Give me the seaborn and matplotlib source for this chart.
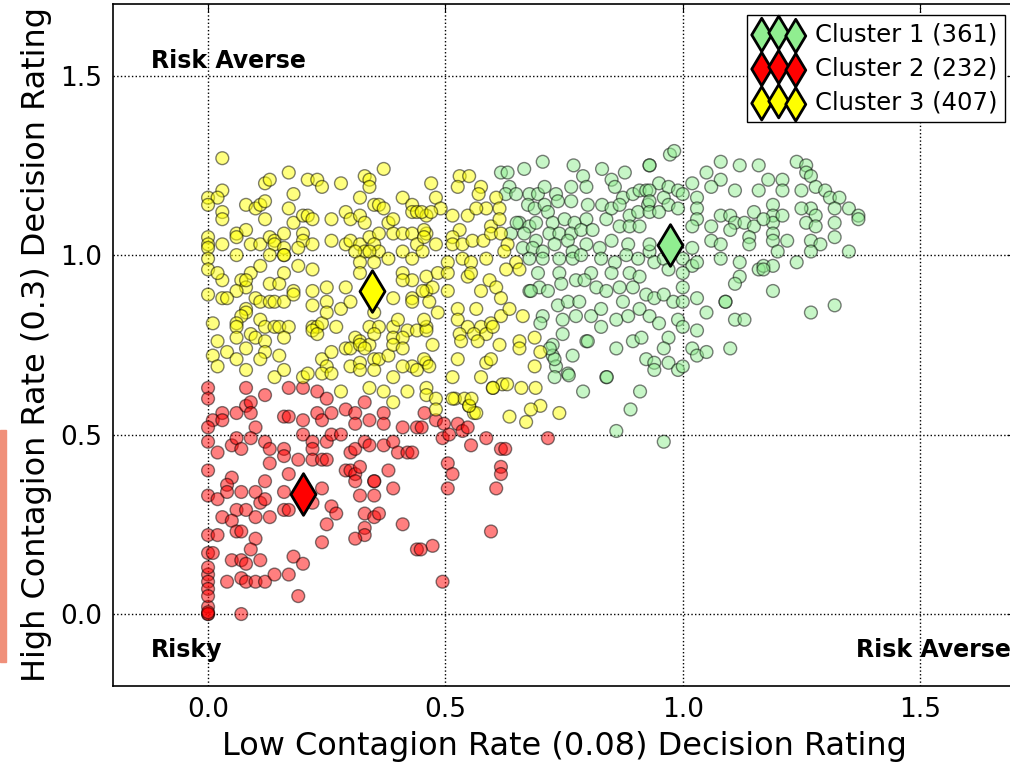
import numpy as np
import pandas as pd
import seaborn as sns
import matplotlib.pyplot as plt
from matplotlib.patches import Rectangle

# decision ratings: (low contagion, high contagion)
cluster1_pts = [  # green
    (0.617, 1.23), (0.631, 1.23), (0.666, 1.24), (0.705, 1.26), (0.77, 1.25), (0.83, 1.24), (0.93, 1.25),
    (0.635, 1.19), (0.627, 1.17), (0.649, 1.17), (0.677, 1.17), (0.695, 1.17), (0.709, 1.19), (0.733, 1.17),
    (0.765, 1.19), (0.79, 1.22), (0.797, 1.19), (0.85, 1.21), (0.878, 1.23), (0.674, 1.14), (0.688, 1.13),
    (0.709, 1.14), (0.737, 1.15), (0.765, 1.15), (0.80, 1.14), (0.83, 1.14), (0.857, 1.19), (0.874, 1.16),
    (0.895, 1.17), (0.909, 1.18), (0.923, 1.18), (0.656, 1.09), (0.677, 1.08), (0.691, 1.09), (0.716, 1.12),
    (0.726, 1.09), (0.751, 1.10), (0.772, 1.09), (0.797, 1.10), (0.839, 1.10), (0.85, 1.13), (0.867, 1.14),
    (0.888, 1.11), (0.906, 1.12), (0.927, 1.14), (0.638, 1.06), (0.666, 1.06), (0.691, 1.04), (0.719, 1.06),
    (0.74, 1.06), (0.765, 1.06), (0.786, 1.07), (0.81, 1.07), (0.867, 1.08), (0.888, 1.08), (0.909, 1.08),
    (0.663, 1.02), (0.684, 1.02), (0.705, 1.01), (0.73, 1.03), (0.758, 1.04), (0.768, 1.01), (0.797, 1.03),
    (0.825, 1.02), (0.85, 1.04), (0.885, 1.03), (0.677, 0.99), (0.705, 0.99), (0.74, 0.99), (0.768, 0.99),
    (0.786, 1.00), (0.828, 0.99), (0.857, 0.98), (0.881, 1.00), (0.906, 0.99), (0.93, 1.01), (0.695, 0.95),
    (0.74, 0.95), (0.775, 0.93), (0.807, 0.95), (0.85, 0.95), (0.888, 0.95), (0.909, 0.94), (0.677, 0.90),
    (0.698, 0.91), (0.716, 0.90), (0.744, 0.92), (0.793, 0.93), (0.818, 0.91), (0.839, 0.90), (0.867, 0.91),
    (0.895, 0.91), (0.923, 0.89), (0.737, 0.86), (0.758, 0.87), (0.782, 0.87), (0.874, 0.87), (0.705, 0.83),
    (0.747, 0.82), (0.775, 0.83), (0.807, 0.83), (0.828, 0.85), (0.86, 0.82), (0.885, 0.83), (0.909, 0.85),
    (0.747, 0.78), (0.797, 0.76), (0.828, 0.80), (0.86, 0.74), (0.895, 0.76), (0.913, 0.77), (0.726, 0.75),
    (0.726, 0.72), (0.768, 0.72), (0.733, 0.69), (0.758, 0.67), (0.839, 0.66), (0.923, 0.71),
    (0.973, 1.28), (0.982, 1.29), (0.93, 1.25), (1.08, 1.26), (1.12, 1.25), (1.16, 1.25), (1.24, 1.26),
    (1.26, 1.25), (1.26, 1.23), (1.27, 1.22), (1.05, 1.23), (1.18, 1.21), (1.21, 1.21), (0.95, 1.20),
    (0.97, 1.19), (0.99, 1.18), (1.02, 1.20), (1.08, 1.21), (1.06, 1.19), (1.11, 1.18), (1.16, 1.18),
    (1.21, 1.18), (1.25, 1.18), (1.28, 1.19), (1.30, 1.18), (1.31, 1.16), (1.33, 1.16), (1.35, 1.13),
    (1.37, 1.11), (1.37, 1.10), (1.32, 1.13), (1.27, 1.13), (1.25, 1.13), (1.28, 1.11), (0.93, 1.18),
    (0.93, 1.15), (0.96, 1.16), (0.97, 1.14), (0.99, 1.13), (1.00, 1.17), (1.03, 1.16), (0.93, 1.12),
    (0.95, 1.12), (1.03, 1.13), (1.03, 1.10), (1.08, 1.11), (1.10, 1.11), (1.15, 1.12), (1.19, 1.14),
    (1.19, 1.11), (1.19, 1.09), (1.21, 1.11), (1.11, 1.09), (1.13, 1.09), (1.15, 1.08), (1.17, 1.10),
    (1.06, 1.08), (1.02, 1.08), (1.10, 1.07), (1.14, 1.05), (1.19, 1.06), (1.19, 1.04), (1.22, 1.04),
    (1.26, 1.09), (1.28, 1.08), (1.32, 1.09), (1.32, 1.05), (1.27, 1.04), (1.29, 1.03), (1.06, 1.04),
    (1.08, 1.03), (1.14, 1.03), (1.02, 1.02), (1.20, 1.01), (1.27, 1.01), (1.35, 1.01), (0.93, 1.03),
    (0.94, 0.98), (0.96, 0.99), (1.00, 0.99), (1.02, 0.97), (0.97, 0.96), (1.00, 0.95), (1.03, 0.98),
    (1.08, 0.99), (1.12, 0.98), (1.16, 0.96), (1.17, 0.97), (1.19, 0.97), (1.24, 0.98), (1.12, 0.94),
    (1.11, 0.92), (1.19, 0.90), (1.00, 0.91), (0.94, 0.88), (0.96, 0.89), (0.98, 0.87), (1.00, 0.87),
    (1.03, 0.88), (1.09, 0.87), (1.05, 0.84), (1.11, 0.82), (1.13, 0.82), (1.27, 0.84), (1.32, 0.86),
    (0.93, 0.83), (0.95, 0.81), (0.97, 0.77), (0.99, 0.82), (1.00, 0.80), (1.03, 0.79), (0.96, 0.74),
    (1.02, 0.74), (1.03, 0.72), (1.05, 0.73), (1.10, 0.74), (0.94, 0.70), (0.97, 0.70), (0.99, 0.68),
    (1.00, 0.69), (0.94, 0.68), (0.79, 0.62), (0.91, 0.62), (0.89, 0.57), (0.86, 0.51), (0.96, 0.48),
    (0.84, 0.66), (0.80, 0.76), (0.73, 0.66), (0.76, 0.665), (0.73, 0.71), (0.72, 0.74), (0.70, 0.81),
    (0.68, 0.90), (0.65, 1.09), (1.09, 0.87), (1.17, 0.96),
]

cluster2_pts = [  # red
    (0.0, 0.63), (0.0, 0.60), (0.03, 0.56), (0.06, 0.56), (0.08, 0.58), (0.09, 0.59), (0.09, 0.56),
    (0.08, 0.63), (0.12, 0.61), (0.17, 0.63), (0.20, 0.63), (0.23, 0.62), (0.25, 0.60), (0.01, 0.54),
    (0.0, 0.52), (0.03, 0.54), (0.10, 0.52), (0.16, 0.55), (0.17, 0.55), (0.20, 0.54), (0.23, 0.56),
    (0.24, 0.54), (0.26, 0.56), (0.29, 0.57), (0.31, 0.56), (0.31, 0.53), (0.34, 0.54), (0.33, 0.59),
    (0.37, 0.56), (0.37, 0.53), (0.41, 0.52), (0.44, 0.52), (0.0, 0.48), (0.02, 0.45), (0.05, 0.47),
    (0.06, 0.49), (0.07, 0.46), (0.09, 0.49), (0.12, 0.48), (0.13, 0.46), (0.16, 0.46), (0.16, 0.44),
    (0.19, 0.43), (0.20, 0.50), (0.22, 0.48), (0.22, 0.46), (0.22, 0.43), (0.24, 0.43), (0.25, 0.43),
    (0.25, 0.48), (0.26, 0.50), (0.28, 0.50), (0.30, 0.45), (0.31, 0.46), (0.33, 0.48), (0.34, 0.47),
    (0.37, 0.47), (0.39, 0.48), (0.40, 0.45), (0.42, 0.45), (0.43, 0.45), (0.13, 0.42), (0.0, 0.40),
    (0.05, 0.38), (0.04, 0.36), (0.0, 0.33), (0.02, 0.32), (0.04, 0.34), (0.07, 0.34), (0.10, 0.34),
    (0.11, 0.31), (0.12, 0.32), (0.12, 0.37), (0.16, 0.34), (0.17, 0.39), (0.16, 0.29), (0.17, 0.29),
    (0.22, 0.31), (0.24, 0.35), (0.26, 0.30), (0.27, 0.28), (0.29, 0.40), (0.30, 0.40), (0.31, 0.39),
    (0.32, 0.41), (0.31, 0.37), (0.35, 0.37), (0.35, 0.37), (0.32, 0.33), (0.35, 0.33), (0.38, 0.40),
    (0.39, 0.35), (0.06, 0.29), (0.03, 0.27), (0.05, 0.26), (0.08, 0.29), (0.10, 0.27), (0.13, 0.27),
    (0.0, 0.22), (0.02, 0.22), (0.06, 0.23), (0.07, 0.23), (0.10, 0.21), (0.25, 0.25), (0.33, 0.28),
    (0.35, 0.27), (0.36, 0.28), (0.33, 0.24), (0.33, 0.22), (0.41, 0.25), (0.24, 0.20), (0.31, 0.21),
    (0.44, 0.18), (0.0, 0.17), (0.01, 0.17), (0.09, 0.18), (0.05, 0.15), (0.07, 0.15), (0.08, 0.14),
    (0.11, 0.15), (0.18, 0.16), (0.20, 0.14), (0.0, 0.11), (0.0, 0.09), (0.0, 0.07), (0.04, 0.09),
    (0.07, 0.10), (0.08, 0.09), (0.10, 0.09), (0.12, 0.09), (0.14, 0.11), (0.17, 0.11), (0.19, 0.05),
    (0.0, 0.02), (0.0, 0.0), (0.0, 0.0), (0.0, 0.005), (0.07, 0.0), (0.0, 0.05), (0.0, 0.13),
    (0.456, 0.56), (0.45, 0.52), (0.48, 0.54), (0.497, 0.53), (0.494, 0.49), (0.508, 0.50), (0.526, 0.53),
    (0.536, 0.51), (0.547, 0.52), (0.554, 0.47), (0.586, 0.49), (0.617, 0.46), (0.626, 0.46), (0.716, 0.49),
    (0.505, 0.42), (0.515, 0.39), (0.505, 0.35), (0.617, 0.41), (0.617, 0.39), (0.607, 0.35), (0.596, 0.23),
    (0.473, 0.19), (0.448, 0.18), (0.494, 0.09),
]

cluster3_pts = [  # yellow
    (0.03, 1.27), (0.17, 1.23), (0.37, 1.24), (0.12, 1.20), (0.13, 1.21), (0.21, 1.21), (0.23, 1.21),
    (0.24, 1.19), (0.28, 1.20), (0.33, 1.22), (0.34, 1.21), (0.34, 1.19), (0.0, 1.16), (0.03, 1.18),
    (0.02, 1.16), (0.0, 1.14), (0.18, 1.17), (0.32, 1.16), (0.41, 1.16), (0.43, 1.14), (0.08, 1.14),
    (0.10, 1.13), (0.11, 1.14), (0.12, 1.15), (0.17, 1.13), (0.35, 1.14), (0.36, 1.14), (0.37, 1.13),
    (0.03, 1.12), (0.03, 1.10), (0.12, 1.10), (0.18, 1.09), (0.20, 1.11), (0.21, 1.11), (0.22, 1.10),
    (0.26, 1.10), (0.29, 1.12), (0.30, 1.10), (0.32, 1.11), (0.33, 1.09), (0.38, 1.09), (0.39, 1.10),
    (0.43, 1.12), (0.44, 1.12), (0.46, 1.11), (0.0, 1.05), (0.0, 1.03), (0.0, 1.02), (0.06, 1.06),
    (0.08, 1.07), (0.06, 1.05), (0.03, 1.03), (0.09, 1.03), (0.11, 1.03), (0.13, 1.05), (0.14, 1.04),
    (0.16, 1.06), (0.14, 1.03), (0.16, 1.02), (0.16, 1.00), (0.20, 1.06), (0.20, 1.04), (0.19, 1.02),
    (0.22, 1.03), (0.26, 1.04), (0.29, 1.03), (0.30, 1.04), (0.32, 1.03), (0.33, 1.01), (0.34, 1.05),
    (0.36, 1.06), (0.35, 1.03), (0.36, 1.01), (0.39, 1.06), (0.41, 1.06), (0.43, 1.06), (0.44, 1.03),
    (0.46, 1.06), (0.31, 1.01), (0.34, 1.01), (0.38, 0.99), (0.41, 1.01), (0.43, 0.99), (0.0, 0.99),
    (0.0, 0.96), (0.06, 1.00), (0.13, 1.00), (0.16, 1.00), (0.19, 0.97), (0.22, 0.96), (0.32, 0.98),
    (0.32, 0.95), (0.35, 0.98), (0.41, 0.95), (0.43, 0.93), (0.46, 0.94), (0.03, 0.93), (0.02, 0.95),
    (0.09, 0.95), (0.11, 0.97), (0.16, 0.95), (0.07, 0.93), (0.08, 0.91), (0.08, 0.93), (0.06, 0.90),
    (0.13, 0.92), (0.15, 0.92), (0.18, 0.90), (0.22, 0.90), (0.25, 0.91), (0.29, 0.91), (0.39, 0.88),
    (0.41, 0.93), (0.43, 0.88), (0.46, 0.90), (0.0, 0.89), (0.03, 0.88), (0.04, 0.88), (0.10, 0.88),
    (0.11, 0.87), (0.13, 0.87), (0.14, 0.87), (0.16, 0.87), (0.18, 0.89), (0.22, 0.86), (0.25, 0.87),
    (0.28, 0.85), (0.30, 0.87), (0.35, 0.84), (0.43, 0.87), (0.08, 0.85), (0.08, 0.84), (0.07, 0.83),
    (0.06, 0.81), (0.06, 0.80), (0.11, 0.82), (0.12, 0.80), (0.14, 0.80), (0.15, 0.80), (0.17, 0.80),
    (0.22, 0.80), (0.23, 0.80), (0.24, 0.81), (0.25, 0.84), (0.27, 0.80), (0.34, 0.80), (0.36, 0.80),
    (0.39, 0.80), (0.40, 0.82), (0.42, 0.79), (0.44, 0.79), (0.46, 0.80), (0.01, 0.81), (0.06, 0.77),
    (0.09, 0.78), (0.10, 0.77), (0.16, 0.77), (0.22, 0.79), (0.23, 0.78), (0.31, 0.77), (0.32, 0.76),
    (0.34, 0.75), (0.35, 0.78), (0.39, 0.77), (0.41, 0.77), (0.46, 0.79), (0.02, 0.76), (0.04, 0.73),
    (0.06, 0.71), (0.08, 0.74), (0.12, 0.76), (0.12, 0.73), (0.11, 0.71), (0.15, 0.72), (0.24, 0.71),
    (0.26, 0.73), (0.25, 0.69), (0.29, 0.74), (0.30, 0.74), (0.32, 0.75), (0.33, 0.74), (0.30, 0.69),
    (0.32, 0.70), (0.32, 0.68), (0.35, 0.71), (0.36, 0.71), (0.38, 0.72), (0.39, 0.75), (0.41, 0.74),
    (0.43, 0.69), (0.46, 0.70), (0.44, 0.68), (0.01, 0.72), (0.02, 0.69), (0.08, 0.68), (0.14, 0.66),
    (0.16, 0.68), (0.20, 0.66), (0.21, 0.67), (0.24, 0.67), (0.26, 0.67), (0.35, 0.68), (0.39, 0.66),
    (0.41, 0.69), (0.28, 0.62), (0.34, 0.63), (0.37, 0.62), (0.39, 0.59), (0.42, 0.62), (0.46, 0.63),
    (0.46, 0.61), (0.48, 0.60), (0.48, 0.57), (0.52, 0.60), (0.54, 0.60), (0.55, 0.58), (0.56, 0.56),
    (0.60, 0.63), (0.62, 0.64), (0.635, 0.55), (0.67, 0.535), (0.74, 0.56), (0.70, 0.58), (0.68, 0.57),
    (0.565, 0.56), (0.515, 0.60), (0.55, 0.58), (0.555, 0.60), (0.60, 0.63), (0.63, 0.64), (0.66, 0.63),
    (0.69, 0.63), (0.47, 1.20), (0.53, 1.22), (0.55, 1.22), (0.526, 1.19), (0.575, 1.19), (0.57, 1.17),
    (0.48, 1.16), (0.49, 1.13), (0.45, 1.12), (0.47, 1.12), (0.515, 1.11), (0.547, 1.11), (0.586, 1.13),
    (0.607, 1.16), (0.614, 1.13), (0.565, 1.13), (0.596, 1.08), (0.614, 1.10), (0.53, 1.07), (0.515, 1.05),
    (0.455, 1.07), (0.455, 1.05), (0.48, 1.03), (0.515, 1.03), (0.536, 1.03), (0.557, 1.04), (0.58, 1.04),
    (0.596, 1.06), (0.617, 1.06), (0.631, 1.03), (0.452, 1.01), (0.505, 0.98), (0.536, 0.99), (0.554, 0.98),
    (0.586, 0.99), (0.624, 1.01), (0.649, 0.98), (0.656, 0.96), (0.628, 0.96), (0.484, 0.95), (0.505, 0.95),
    (0.547, 0.94), (0.554, 0.95), (0.593, 0.93), (0.607, 0.91), (0.575, 0.90), (0.617, 0.88), (0.473, 0.91),
    (0.452, 0.90), (0.505, 0.90), (0.466, 0.87), (0.484, 0.84), (0.455, 0.82), (0.526, 0.85), (0.526, 0.82),
    (0.565, 0.85), (0.547, 0.80), (0.575, 0.80), (0.596, 0.81), (0.617, 0.83), (0.635, 0.85), (0.663, 0.83),
    (0.53, 0.78), (0.56, 0.78), (0.586, 0.78), (0.60, 0.80), (0.473, 0.75), (0.533, 0.76), (0.568, 0.76),
    (0.614, 0.75), (0.656, 0.76), (0.688, 0.77), (0.656, 0.74), (0.70, 0.73), (0.455, 0.71), (0.526, 0.71),
    (0.586, 0.70), (0.596, 0.71), (0.688, 0.69), (0.466, 0.69), (0.515, 0.66), (0.575, 0.66),
]

centroids = [(0.973, 1.028), (0.20, 0.334), (0.346, 0.90)]
labels = ['Cluster 1 (361)', 'Cluster 2 (232)', 'Cluster 3 (407)']
colors = ['lightgreen', 'red', 'yellow']

frames = []
for name, pts in zip(labels, [cluster1_pts, cluster2_pts, cluster3_pts]):
    arr = np.array(pts)
    frames.append(pd.DataFrame({'low': arr[:, 0], 'high': arr[:, 1], 'cluster': name}))
df = pd.concat(frames, ignore_index=True)

sns.set_style('white')
plt.rcParams['font.family'] = ['DejaVu Sans']
plt.rcParams.update({'text.color': 'black', 'axes.labelcolor': 'black',
                     'xtick.color': 'black', 'ytick.color': 'black'})

fig = plt.figure(figsize=(10.1, 7.68), dpi=100)
ax = fig.add_axes([0.112, 0.107, 0.893, 0.888])

sns.scatterplot(data=df, x='low', y='high', hue='cluster', palette=dict(zip(labels, colors)),
                s=85, alpha=0.5, edgecolor='black', linewidth=1, legend=False, ax=ax)

for (cx, cy), lab, col in zip(centroids, labels, colors):
    ax.scatter(cx, cy, marker='d', s=450, c=col, edgecolors='black', linewidths=2,
               label=lab, zorder=5)

ax.set_xlim(-0.2, 1.7)
ax.set_ylim(-0.2, 1.7)
ax.set_xticks([0.0, 0.5, 1.0, 1.5])
ax.set_yticks([0.0, 0.5, 1.0, 1.5])
ax.grid(True, color='black', linestyle=':', linewidth=1)
ax.tick_params(direction='in', length=6, top=True, right=True, labelsize=19, pad=8)
for sp in ax.spines.values():
    sp.set_color('black')
    sp.set_linewidth(1.2)

ax.set_xlabel('Low Contagion Rate (0.08) Decision Rating', fontsize=23, labelpad=6)
ax.set_ylabel('High Contagion Rate (0.3) Decision Rating', fontsize=23, labelpad=6)

ax.text(-0.12, 1.54, 'Risk Averse', fontsize=17, fontweight='bold', va='center')
ax.text(-0.12, -0.1, 'Risky', fontsize=17, fontweight='bold', va='center')
ax.text(1.365, -0.1, 'Risk Averse', fontsize=17, fontweight='bold', va='center')

ax.legend(loc='upper right', bbox_to_anchor=(1005 / 1010, 1 - 15 / 768), bbox_transform=fig.transFigure,
          borderaxespad=0, scatterpoints=3, markerscale=0.8, fontsize=17.5, fancybox=False,
          edgecolor='black', framealpha=1, handlelength=2.0, handletextpad=0.5,
          labelspacing=0.42, borderpad=0.3)

# thin salmon strip at the left edge of the slide
fig.add_artist(Rectangle((0, (768 - 662) / 768), 6 / 1010, 232 / 768, color='#f0907a',
                         transform=fig.transFigure))

plt.savefig('out.png', dpi=100)
